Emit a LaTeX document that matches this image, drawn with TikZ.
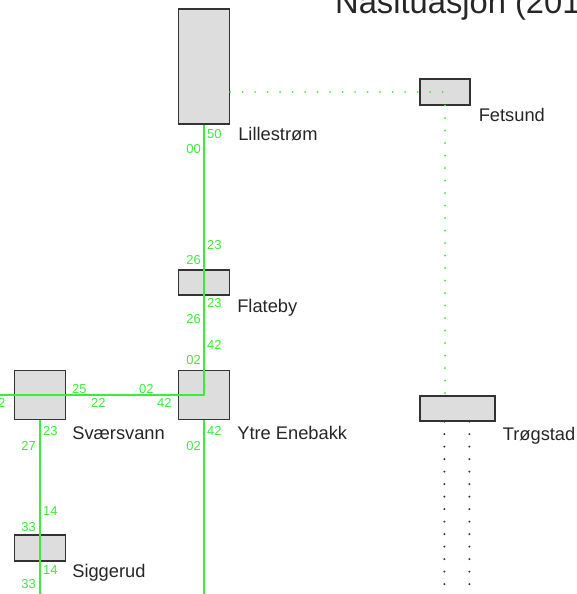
\documentclass[tikz,border=0pt]{standalone}
\usepackage{fontspec}
\setmainfont{Liberation Sans}
\usepackage{xcolor}
\usepackage{tikz}
\usetikzlibrary{calc}

\definecolor{routegreen}{rgb}{0.24,0.92,0.24}
\definecolor{boxgray}{RGB}{221,221,221}

\tikzset{
  stationname/.style={anchor=base west, inner sep=0pt, text=black!85,
    font=\fontsize{18.3}{20}\selectfont},
  minuteR/.style={anchor=base west},
  minuteL/.style={anchor=base east},
  routeline/.style={color=routegreen, line width=1.6pt},
}

\begin{document}
\begin{tikzpicture}[x=1pt, y=-1pt]
\useasboundingbox (0,0) rectangle (577,594);

\node[anchor=base west, inner sep=0pt, text=black!85, font=\fontsize{32.7}{36}\selectfont] (title) at (335,14) {Nåsituasjon (2013)};

% stations
\begin{scope}[every node/.style={rectangle, draw=black!80, fill=boxgray, line width=1.2pt, inner sep=0pt}]
    \node[minimum width=51, minimum height=115] (Lil) at (204,66.5) {};
    \node[minimum width=50, minimum height=26] (Fet) at (445,92) {};
    \node[minimum width=51, minimum height=25] (Fla) at (204,282.5) {};
    \node[minimum width=51, minimum height=49] (Ytr) at (204,395) {};
    \node[minimum width=51, minimum height=49] (Sva) at (40,395) {};
    \node[minimum width=51, minimum height=26] (Sig) at (40,548) {};
    \node[minimum width=75, minimum height=25] (Tro) at (457.5,408.5) {};
\end{scope}

\node[stationname] (LilName) at ($(Lil.south east)+(8,16)$) {Lillestrøm};
\node[stationname] (FetName) at ($(Fet.south east)+(8,16)$) {Fetsund};
\node[stationname] (FlaName) at ($(Fla.south east)+(7,17)$) {Flateby};
\node[stationname] (YtrName) at ($(Ytr.south east)+(7,19.5)$) {Ytre Enebakk};
\node[stationname] (SvaName) at ($(Sva.south east)+(6,19.5)$) {Sværsvann};
\node[stationname] (SigName) at ($(Sig.south east)+(6,16)$) {Siggerud};
\node[stationname] (TroName) at ($(Tro.south east)+(7,19)$) {Trøgstad};

\coordinate (WestEnd) at (0,395);
\coordinate (SvaEnd) at (40,594);
\coordinate (YtrEnd) at (204,594);
\coordinate (TroA) at ($(Tro.south west)+(25,0)$);
\coordinate (TroB) at ($(Tro.south west)+(50,0)$);
\coordinate (TroAEnd) at (TroA |- YtrEnd);
\coordinate (TroBEnd) at (TroB |- YtrEnd);

% routes
\draw[routeline] (Lil.south) -- (Ytr.center) -- (WestEnd);
\draw[routeline] (Ytr.south) -- (YtrEnd);
\draw[routeline] (Sva.south) -- (SvaEnd);

\begin{scope}[line cap=round, line width=2.2pt, dash pattern=on 0pt off 12.5pt]
    \draw[color=routegreen] (Lil.east |- Fet.center) -- (Fet.center);
    \draw[color=routegreen] (Fet.south) -- (Fet.south |- Tro.north);
    \draw[black!80] (TroA) -- (TroAEnd);
    \draw[black!80] (TroB) -- (TroBEnd);
\end{scope}

% minutes
\begin{scope}[every node/.style={inner sep=0pt, text=routegreen, font=\fontsize{13}{15}\selectfont}]
    \node[minuteR] (m1) at (207,138) {50};
    \node[minuteL] (m2) at (201,153) {00};
    \node[minuteR] (m3) at (207,249) {23};
    \node[minuteL] (m4) at (201,264) {26};
    \node[minuteR] (m5) at (207,307) {23};
    \node[minuteL] (m6) at (201,323) {26};
    \node[minuteR] (m7) at (207,349) {42};
    \node[minuteL] (m8) at (201,364) {02};
    \node[minuteR] (m9) at (72,393) {25};
    \node[minuteR] (m10) at (139,393) {02};
    \node[minuteR] (m11) at (91,407) {22};
    \node[minuteR] (m12) at (157,407) {42};
    \node[minuteR] (m13) at (-2,407) {2};
    \node[minuteR] (m14) at (43,435) {23};
    \node[minuteL] (m15) at (36,450) {27};
    \node[minuteR] (m16) at (207,435) {42};
    \node[minuteL] (m17) at (201,450) {02};
    \node[minuteR] (m18) at (43,515) {14};
    \node[minuteL] (m19) at (36,531) {33};
    \node[minuteR] (m20) at (43,574) {14};
    \node[minuteL] (m21) at (36,588) {33};
\end{scope}
\end{tikzpicture}
\end{document}
